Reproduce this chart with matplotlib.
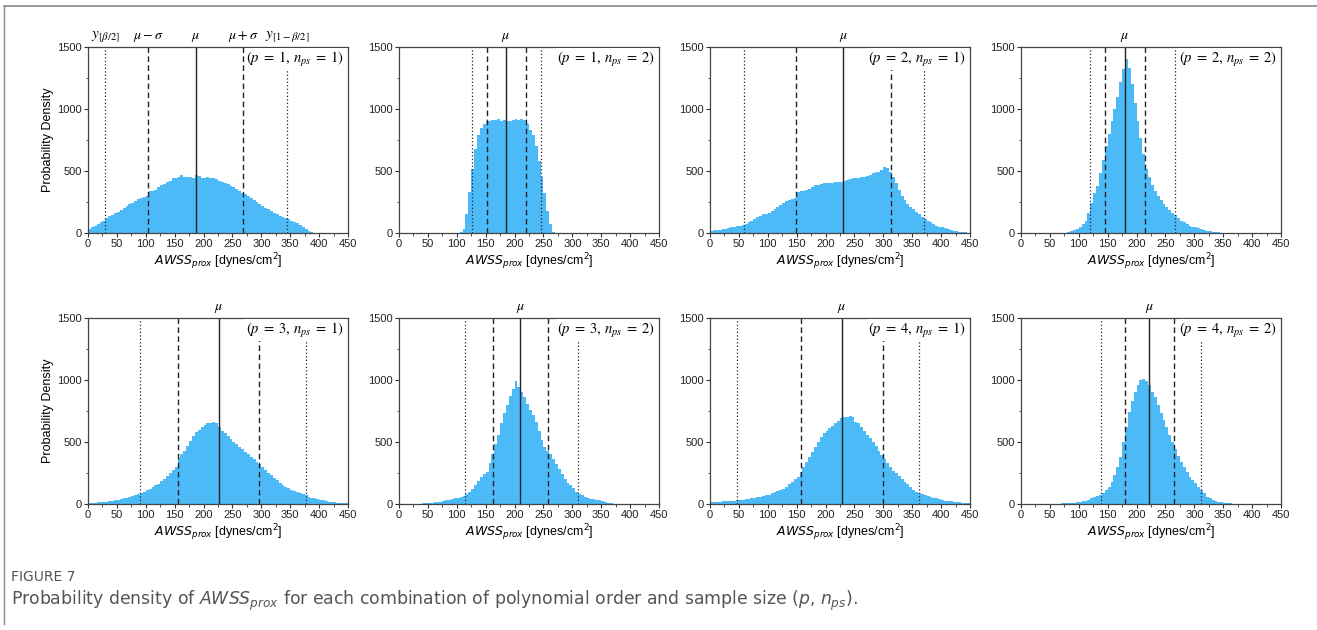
import numpy as np
import matplotlib
matplotlib.use("Agg")
import matplotlib.pyplot as plt
from matplotlib.ticker import MultipleLocator
from matplotlib.lines import Line2D

# Histogram bin edges (dynes/cm^2), 5-unit bins from 0 to 450
bin_edges = np.arange(0, 455, 5)

# Probability density per bin for each (p, n_ps) case
dens_p1_n1 = [
    35, 45, 55, 70, 85, 100, 125, 135, 145, 160,
    170, 185, 200, 215, 230, 240, 260, 275, 280, 290,
    300, 340, 335, 350, 370, 385, 395, 410, 420, 440,
    445, 455, 465, 455, 450, 450, 445, 470, 460, 445,
    445, 450, 445, 440, 435, 420, 410, 400, 395, 380,
    370, 355, 340, 320, 315, 300, 285, 270, 250, 235,
    220, 205, 190, 175, 160, 150, 140, 130, 120, 110,
    100, 90, 80, 65, 50, 35, 20, 5, 0, 0,
    0, 0, 0, 0, 0, 0, 0, 0, 0, 0,
]
dens_p1_n2 = [
    0, 0, 0, 0, 0, 0, 0, 0, 0, 0,
    0, 0, 0, 0, 0, 0, 0, 0, 0, 0,
    0, 10, 30, 150, 330, 520, 680, 790, 850, 880,
    900, 905, 910, 915, 920, 905, 915, 900, 905, 910,
    920, 915, 920, 915, 880, 830, 790, 700, 580, 450,
    320, 180, 70, 10, 0, 0, 0, 0, 0, 0,
    0, 0, 0, 0, 0, 0, 0, 0, 0, 0,
    0, 0, 0, 0, 0, 0, 0, 0, 0, 0,
    0, 0, 0, 0, 0, 0, 0, 0, 0, 0,
]
dens_p2_n1 = [
    20, 22, 25, 28, 30, 35, 40, 45, 50, 55,
    55, 62, 70, 85, 100, 115, 130, 140, 150, 155,
    160, 175, 195, 210, 225, 240, 255, 265, 275, 285,
    330, 335, 340, 345, 355, 370, 385, 390, 395, 400,
    400, 405, 405, 410, 410, 415, 420, 430, 435, 440,
    440, 445, 450, 455, 460, 470, 480, 490, 495, 510,
    530, 525, 490, 450, 400, 350, 300, 265, 235, 210,
    190, 170, 150, 130, 115, 100, 85, 72, 60, 50,
    45, 38, 30, 24, 18, 14, 10, 7, 5, 3,
]
dens_p2_n2 = [
    0, 0, 0, 0, 0, 0, 0, 0, 0, 0,
    0, 0, 0, 0, 2, 4, 8, 15, 25, 35,
    48, 70, 100, 160, 240, 320, 380, 480, 590, 700,
    800, 900, 1000, 1100, 1220, 1320, 1400, 1330, 1200, 1050,
    900, 770, 640, 520, 450, 390, 340, 300, 265, 235,
    210, 185, 165, 145, 120, 100, 85, 72, 60, 52,
    45, 38, 30, 24, 18, 14, 10, 7, 5, 3,
    2, 1, 0, 0, 0, 0, 0, 0, 0, 0,
    0, 0, 0, 0, 0, 0, 0, 0, 0, 0,
]
dens_p3_n1 = [
    10, 10, 12, 14, 15, 18, 20, 22, 25, 30,
    35, 40, 45, 50, 55, 62, 70, 78, 90, 100,
    110, 120, 135, 150, 165, 185, 200, 225, 250, 275,
    300, 370, 400, 430, 470, 510, 550, 580, 600, 620,
    640, 650, 655, 660, 650, 620, 590, 570, 550, 525,
    500, 480, 460, 440, 420, 400, 380, 360, 340, 320,
    295, 275, 250, 230, 210, 190, 170, 155, 140, 128,
    115, 105, 95, 85, 80, 70, 60, 52, 45, 40,
    35, 30, 25, 20, 18, 15, 12, 10, 8, 5,
]
dens_p3_n2 = [
    0, 0, 0, 0, 0, 0, 2, 3, 5, 7,
    10, 12, 15, 18, 20, 25, 30, 35, 40, 48,
    50, 55, 62, 80, 100, 125, 155, 185, 215, 240,
    260, 330, 400, 480, 560, 650, 730, 800, 870, 930,
    990, 940, 900, 860, 810, 760, 720, 660, 590, 520,
    460, 430, 400, 360, 320, 280, 240, 200, 170, 150,
    130, 100, 82, 70, 60, 50, 43, 38, 33, 30,
    25, 18, 12, 8, 4, 2, 0, 0, 0, 0,
    0, 0, 0, 0, 0, 0, 0, 0, 0, 0,
]
dens_p4_n1 = [
    15, 15, 18, 20, 22, 25, 25, 27, 28, 30,
    32, 35, 38, 42, 45, 50, 55, 60, 65, 70,
    75, 85, 95, 105, 115, 125, 140, 160, 180, 200,
    220, 260, 300, 340, 380, 420, 460, 500, 540, 575,
    590, 610, 630, 650, 670, 690, 700, 700, 710, 700,
    660, 650, 620, 590, 560, 530, 500, 465, 430, 395,
    360, 330, 300, 270, 250, 225, 200, 180, 160, 140,
    115, 100, 90, 80, 70, 62, 55, 50, 45, 40,
    32, 28, 25, 22, 20, 17, 15, 12, 10, 8,
]
dens_p4_n2 = [
    0, 0, 0, 0, 0, 0, 0, 0, 0, 0,
    0, 0, 2, 3, 5, 6, 8, 10, 12, 15,
    18, 22, 28, 35, 45, 55, 65, 75, 85, 110,
    140, 180, 230, 300, 380, 500, 620, 740, 830, 900,
    960, 1000, 1010, 990, 960, 900, 860, 800, 730, 680,
    620, 560, 500, 440, 390, 340, 300, 260, 220, 190,
    170, 140, 110, 85, 60, 45, 35, 27, 20, 15,
    10, 7, 5, 3, 2, 1, 0, 0, 0, 0,
    0, 0, 0, 0, 0, 0, 0, 0, 0, 0,
]

# Case labels (p, n_ps)
case_p = [1, 1, 2, 2, 3, 3, 4, 4]
case_nps = [1, 2, 1, 2, 1, 2, 1, 2]

# Reference statistics: y[beta/2], mu - sigma, mu, mu + sigma, y[1-beta/2]
q_low = [30, 127, 58, 120, 90, 114, 47, 138]
mu_minus = [104, 152, 149, 146, 155, 162, 157, 180]
mu = [187, 185, 231, 180, 226, 210, 228, 222]
mu_plus = [268, 220, 313, 214, 296, 258, 299, 265]
q_high = [345, 246, 370, 266, 377, 309, 362, 312]

densities = [dens_p1_n1, dens_p1_n2, dens_p2_n1, dens_p2_n2,
             dens_p3_n1, dens_p3_n2, dens_p4_n1, dens_p4_n2]

bar_color = "#4DBAF8"
W, H = 1317, 630
fig = plt.figure(figsize=(W / 100, H / 100), dpi=100)

col_left = [88, 399, 710, 1021]
row_top = [47, 318]
ax_w, ax_h = 260, 186

label_font = "Liberation Sans"

for i in range(8):
    r, c = divmod(i, 4)
    ax = fig.add_axes([col_left[c] / W, 1 - (row_top[r] + ax_h) / H, ax_w / W, ax_h / H])
    ax.stairs(densities[i], bin_edges, fill=True, color=bar_color, linewidth=0, zorder=1)

    ax.set_xlim(0, 450)
    ax.set_ylim(0, 1500)
    ax.xaxis.set_major_locator(MultipleLocator(50))
    ax.xaxis.set_minor_locator(MultipleLocator(25))
    ax.yaxis.set_major_locator(MultipleLocator(500))
    ax.yaxis.set_minor_locator(MultipleLocator(250))
    ax.tick_params(which="major", direction="out", length=3, width=0.8, colors="#333333",
                   labelsize=8, pad=1.5)
    ax.tick_params(which="minor", direction="out", length=1.8, width=0.6, colors="#333333")
    for lab in ax.get_xticklabels() + ax.get_yticklabels():
        lab.set_fontfamily("Liberation Sans")
        lab.set_color("#222222")
    for sp in ax.spines.values():
        sp.set_linewidth(0.9)
        sp.set_color("#444444")

    ax.axvline(q_low[i], color="#222222", lw=0.9, ls=(0, (1, 1.8)), zorder=2)
    ax.axvline(mu_minus[i], color="#222222", lw=1.0, ls=(0, (4, 2.5)), zorder=2)
    ax.axvline(mu[i], color="#222222", lw=1.0, ls="-", zorder=2)
    ax.axvline(mu_plus[i], color="#222222", lw=1.0, ls=(0, (4, 2.5)), zorder=2)
    ax.axvline(q_high[i], color="#222222", lw=0.9, ls=(0, (1, 1.8)), zorder=2)

    ax.set_xlabel(r"$AWSS_{prox}$ [dynes/cm$^2$]", fontsize=9, fontfamily=label_font,
                  math_fontfamily="dejavusans", labelpad=1.5)
    if c == 0:
        ax.set_ylabel("Probability Density", fontsize=9, fontfamily=label_font, labelpad=2)

    ax.text(0.985, 0.935, r"$(p\;=\;%d,\,n_{ps}\;=\;%d)$" % (case_p[i], case_nps[i]),
            transform=ax.transAxes, ha="right", va="center", fontsize=10.5,
            math_fontfamily="stix", zorder=5,
            bbox=dict(facecolor="white", edgecolor="none", pad=1.0))

    ax.text(mu[i], 1.015, r"$\mu$", transform=ax.get_xaxis_transform(), ha="center",
            va="bottom", fontsize=10, math_fontfamily="stix")
    if i == 0:
        ax.text(q_low[i], 1.015, r"$y_{[\beta/2]}$", transform=ax.get_xaxis_transform(),
                ha="center", va="bottom", fontsize=11, math_fontfamily="stix")
        ax.text(mu_minus[i], 1.015, r"$\mu-\sigma$", transform=ax.get_xaxis_transform(),
                ha="center", va="bottom", fontsize=10, math_fontfamily="stix")
        ax.text(mu_plus[i], 1.015, r"$\mu+\sigma$", transform=ax.get_xaxis_transform(),
                ha="center", va="bottom", fontsize=10, math_fontfamily="stix")
        ax.text(q_high[i], 1.015, r"$y_{[1-\beta/2]}$", transform=ax.get_xaxis_transform(),
                ha="center", va="bottom", fontsize=11, math_fontfamily="stix")

# Outer figure frame (top rule and left rule)
frame_col = "#888888"
fig.add_artist(Line2D([4 / W, 1], [1 - 6 / H, 1 - 6 / H], color=frame_col, lw=1.2))
fig.add_artist(Line2D([4 / W, 4 / W], [1 - 6 / H, 1 - 624 / H], color=frame_col, lw=1.0))

# Caption
fig.text(11 / W, 1 - 577 / H, "FIGURE 7", fontsize=10, fontfamily="DejaVu Sans",
         color="#555555", va="center", ha="left")
fig.text(11 / W, 1 - 601 / H,
         r"Probability density of $\mathit{AWSS}_{\mathit{prox}}$ for each combination of "
         r"polynomial order and sample size ($\mathit{p}$, $\mathit{n}_{\mathit{ps}}$).",
         fontsize=12.4, fontfamily="DejaVu Sans", color="#555555",
         va="center", ha="left", math_fontfamily="dejavusans")

fig.savefig("out.png", dpi=100, facecolor="white")
